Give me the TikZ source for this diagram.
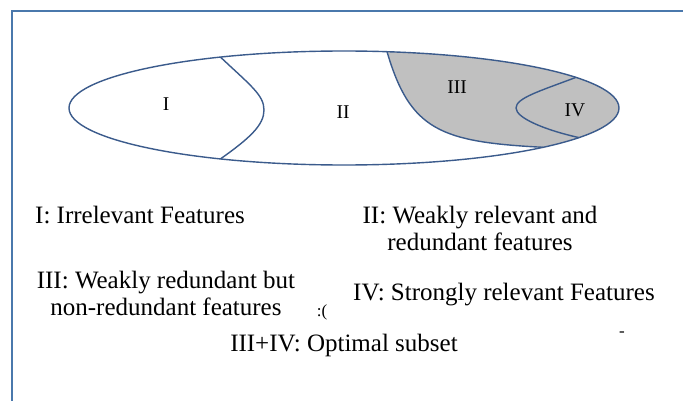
\documentclass[tikz,border=0pt]{standalone}
\usepackage{fontspec}
\setmainfont{Liberation Serif}
\usetikzlibrary{calc}
\definecolor{framecol}{RGB}{74,120,172}
\definecolor{linecol}{RGB}{59,91,140}
\definecolor{fillgray}{RGB}{192,192,192}
\tikzset{
  region/.style={draw=linecol, line width=1.4pt},
  roman/.style={font=\fontsize{19.5}{22}\selectfont, inner sep=0pt},
  legend/.style={font=\fontsize{25}{27}\selectfont, inner sep=0pt, align=center},
  stray/.style={font=\fontsize{17}{19}\selectfont, inner sep=0pt}
}
\begin{document}
\begin{tikzpicture}[x=1pt,y=1pt]
\useasboundingbox (0,0) rectangle (683,400);
\fill[white] (0,0) rectangle (683,400);
% frame (only left and top edges visible)
\draw[framecol, line width=2.4pt] (12,-10) -- (12,389) -- (700,389);

\coordinate (C) at (344,292);
\coordinate (a1) at ($(C)+(116.7:275pt and 57pt)$);
\coordinate (a2) at ($(C)+(-116.7:275pt and 57pt)$);
\coordinate (a3) at (264,290);
\coordinate (b1) at ($(C)+(81:275pt and 57pt)$);
\coordinate (b2) at ($(C)+(-43.6:275pt and 57pt)$);
\coordinate (c1) at ($(C)+(32.5:275pt and 57pt)$);
\coordinate (c2) at ($(C)+(-31.3:275pt and 57pt)$);
\coordinate (c3) at (516,292);

% grey region III + IV
\begin{scope}
  \clip (C) ellipse [x radius=275pt, y radius=57pt];
  \fill[fillgray] (b1) .. controls (410,270) and (440,258) .. (b2)
     -- (700,200) -- (700,400) -- cycle;
\end{scope}

% outline and boundaries
\draw[region] (C) ellipse [x radius=275pt, y radius=57pt];
\draw[region] (a1) .. controls (250,315) and (264,305) .. (a3)
                   .. controls (264,275) and (250,262) .. (a2);
\draw[region] (b1) .. controls (410,270) and (440,258) .. (b2);
\draw[region] (c1) .. controls (540,309) and (516,302) .. (c3)
                   .. controls (516,282) and (545,270) .. (c2);

% region labels
\node[roman] (lI) at (166,296) {I};
\node[roman] (lII) at (343,288) {II};
\node[roman] (lIII) at (457,313) {III};
\node[roman] (lIV) at (575,290) {IV};

% legend
\node[legend] (t1) at (140,185) {I: Irrelevant Features};
\node[legend] (t2) at (480,172) {II: Weakly relevant and\\redundant features};
\node[legend] (t3) at (166,107) {III: Weakly redundant but\\non-redundant features};
\node[legend] (t4) at (504,105) {IV: Strongly relevant Features};
\node[legend] (t5) at (344,55) {III+IV: Optimal subset};
\node[stray] (s1) at (322,88) {:(};
\node[stray] (s2) at (622,66) {-};
\end{tikzpicture}
\end{document}
